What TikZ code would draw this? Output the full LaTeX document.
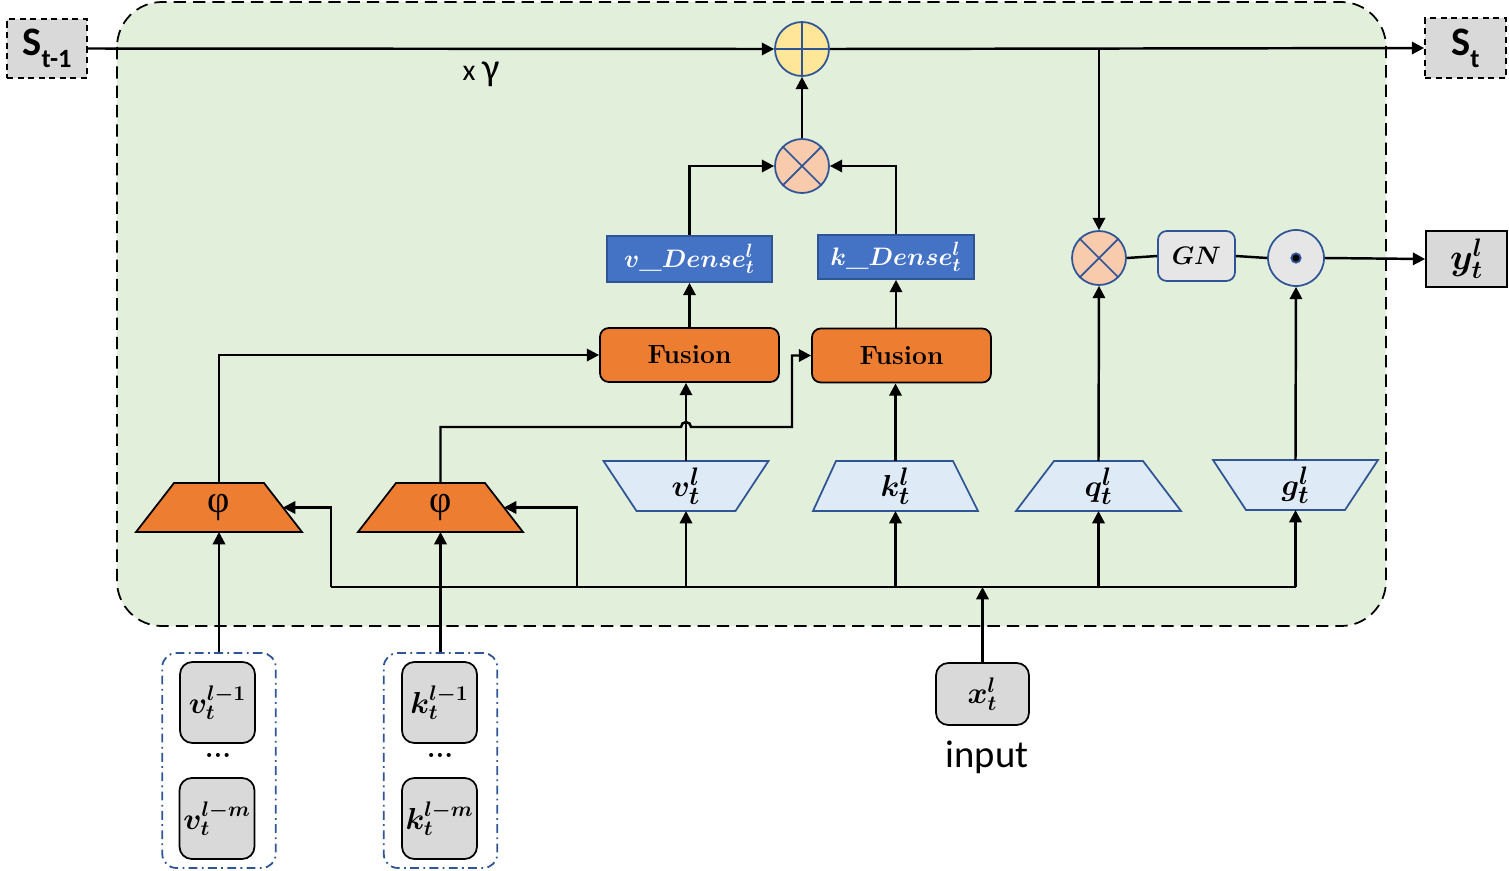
\documentclass[tikz,border=0pt]{standalone}
\usepackage{fontspec}
\usepackage{bm}
\usetikzlibrary{arrows.meta}
\newfontfamily\carlito{Carlito}
\newfontfamily\timesg{Liberation Serif}
\definecolor{bggreen}{HTML}{E2EFDA}
\definecolor{orng}{HTML}{ED7D31}
\definecolor{lorng}{HTML}{F8CBAD}
\definecolor{ylw}{HTML}{FFE699}
\definecolor{dblue}{HTML}{4472C4}
\definecolor{bblue}{HTML}{2F5597}
\definecolor{lblue}{HTML}{DEEBF7}
\definecolor{gry}{HTML}{D9D9D9}
\definecolor{lgry}{HTML}{E7E6E6}
\tikzset{
  arr/.style={line width=1.4pt,-{Triangle[length=7pt,width=7pt]}},
  ln/.style={line width=1.4pt},
  sbox/.style={draw,dashed,dash pattern=on 3.5pt off 2.5pt,line width=1pt,fill=gry,inner sep=0pt},
  opc/.style={circle,draw=bblue,line width=1pt,inner sep=0pt,minimum size=1.08cm},
  densebox/.style={rectangle,draw=bblue,line width=1pt,fill=dblue,inner sep=0pt,text=white,font=\fontsize{15}{18}\selectfont},
  fusionbox/.style={rectangle,rounded corners=5pt,draw,line width=1pt,fill=orng,inner sep=0pt,minimum width=3.58cm,minimum height=1.08cm,font=\bfseries\fontsize{15}{18}\selectfont},
  trapn/.style={rectangle,inner sep=0pt,outer sep=0pt,minimum width=3.3cm,minimum height=1.0cm},
  trapd/.style={draw=bblue,line width=1pt,fill=lblue},
  phid/.style={draw,line width=1pt,fill=orng},
  traplab/.style={inner sep=0pt,font=\fontsize{19}{22}\selectfont},
  philab/.style={inner sep=0pt,font=\timesg\fontsize{22}{24}\selectfont},
  stackbox/.style={rectangle,rounded corners=8pt,draw=bblue,line width=1pt,dash pattern=on 5pt off 2.5pt on 1pt off 2.5pt,inner sep=0pt,minimum width=2.27cm,minimum height=4.3cm},
  histbox/.style={rectangle,rounded corners=7pt,draw,line width=1pt,fill=gry,inner sep=0pt,minimum width=1.5cm,minimum height=1.62cm,font=\fontsize{17.5}{20}\selectfont},
}
\begin{document}
\begin{tikzpicture}[x=0.02cm,y=-0.02cm]
\useasboundingbox (0,0) rectangle (1509,870);
% main cell
\draw[fill=bggreen,dash pattern=on 7pt off 4pt,line width=1pt,rounded corners=0.9cm] (117,2) rectangle (1386,626);

% state boxes
\node[sbox,minimum width=1.6cm,minimum height=1.18cm] (s1) at (47,48.5) {\carlito\bfseries\fontsize{23}{26}\selectfont S\raisebox{-0.3em}{\fontsize{15}{17}\selectfont t-1}};
\node[sbox,minimum width=1.62cm,minimum height=1.2cm] (st) at (1465.5,48) {\carlito\bfseries\fontsize{23}{26}\selectfont S\raisebox{-0.3em}{\fontsize{15}{17}\selectfont t}};
\node[inner sep=0pt,anchor=base] (gam) at (481,80) {\carlito\fontsize{17}{18}\selectfont x \fontsize{22}{24}\selectfont γ};

% operators
\node[opc,fill=ylw] (plus) at (802,49) {};
\draw[bblue,line width=1pt] (plus.north) -- (plus.south) (plus.west) -- (plus.east);
\node[opc,fill=lorng] (ot2) at (802,166) {};
\draw[bblue,line width=1pt] (ot2.north west) -- (ot2.south east) (ot2.north east) -- (ot2.south west);
\node[opc,fill=lorng] (ot3) at (1099,258) {};
\draw[bblue,line width=1pt] (ot3.north west) -- (ot3.south east) (ot3.north east) -- (ot3.south west);
\node[opc,fill=lgry,minimum size=1.12cm] (od) at (1296,258) {};
\fill[bblue] (od) circle (3.2pt);
\fill[black] (od) circle (2pt);
\node[rectangle,rounded corners=5pt,draw=bblue,line width=1pt,fill=lgry,minimum width=1.54cm,minimum height=1.0cm,inner sep=0pt,font=\fontsize{14.5}{17}\selectfont] (gn) at (1196.5,256) {$\bm{GN}$};
\node[rectangle,draw,line width=1pt,fill=gry,minimum width=1.62cm,minimum height=1.12cm,inner sep=0pt,font=\fontsize{20}{23}\selectfont] (yb) at (1466.5,259) {$\bm{y_t^l}$};

% dense boxes
\node[densebox,minimum width=3.3cm,minimum height=0.92cm] (vd) at (689.5,259) {$\bm{v}\mbox{\bfseries\_}\bm{Dense_t^l}$};
\node[densebox,minimum width=3.12cm,minimum height=0.88cm] (kd) at (896,257) {$\bm{k}\mbox{\bfseries\_}\bm{Dense_t^l}$};

% fusion
\node[fusionbox] (f1) at (689.5,355) {Fusion};
\node[fusionbox] (f2) at (901.5,355.5) {Fusion};

% projection trapezia (wide side 3.3cm)
\node[trapn] (vt) at (686,486) {};
\filldraw[trapd] (vt.north west) -- (vt.north east) -- ([xshift=-0.66cm]vt.south east) -- ([xshift=0.66cm]vt.south west) -- cycle;
\node[traplab] at (vt) {$\bm{v_t^l}$};
\node[trapn] (kt) at (895.5,486) {};
\filldraw[trapd] ([xshift=0.46cm]kt.north west) -- ([xshift=-0.50cm]kt.north east) -- (kt.south east) -- (kt.south west) -- cycle;
\node[traplab] at (kt) {$\bm{k_t^l}$};
\node[trapn] (qt) at (1098.5,486) {};
\filldraw[trapd] ([xshift=0.76cm]qt.north west) -- ([xshift=-0.76cm]qt.north east) -- (qt.south east) -- (qt.south west) -- cycle;
\node[traplab] at (qt) {$\bm{q_t^l}$};
\node[trapn] (gt) at (1295.5,485) {};
\filldraw[trapd] (gt.north west) -- (gt.north east) -- ([xshift=-0.66cm]gt.south east) -- ([xshift=0.66cm]gt.south west) -- cycle;
\node[traplab] at (gt) {$\bm{g_t^l}$};
\node[trapn,minimum width=3.32cm,minimum height=0.98cm] (phi1) at (219,507.5) {};
\filldraw[phid] ([xshift=0.76cm]phi1.north west) -- ([xshift=-0.76cm]phi1.north east) -- (phi1.south east) -- (phi1.south west) -- cycle;
\node[philab] at (phi1) {φ};
\node[trapn,minimum width=3.3cm,minimum height=0.98cm] (phi2) at (440.5,507.5) {};
\filldraw[phid] ([xshift=0.76cm]phi2.north west) -- ([xshift=-0.76cm]phi2.north east) -- (phi2.south east) -- (phi2.south west) -- cycle;
\node[philab] at (phi2) {φ};

% history stacks
\node[stackbox] (vs) at (219,760.5) {};
\node[stackbox] (ks) at (440.5,760.5) {};
\node[histbox] (v1) at (217.5,702.5) {$\bm{v_t^{l-1}}$};
\node[histbox] (vm) at (217,818.5) {$\bm{v_t^{l-m}}$};
\node[histbox] (k1) at (439.5,702.5) {$\bm{k_t^{l-1}}$};
\node[histbox] (km) at (439.5,818.5) {$\bm{k_t^{l-m}}$};
\node[font=\bfseries\fontsize{16}{18}\selectfont] (vdots) at (218,755) {...};
\node[font=\bfseries\fontsize{16}{18}\selectfont] (kdots) at (440,755) {...};

% input
\node[histbox,minimum width=1.86cm,minimum height=1.24cm] (xin) at (982.5,694) {$\bm{x_t^l}$};
\node[font=\carlito\fontsize{22}{25}\selectfont] (inlab) at (987,757) {input};

% bus coordinates
\coordinate (b1) at (331,587);
\coordinate (b2) at (577,587);
\coordinate (bR) at (1295.5,587);
\coordinate (jL) at (681,427);
\coordinate (jT) at (792,427);

% connectors
\draw[arr] (s1.east) -- (plus.west);
\draw[arr] (plus.east) -- (st.west);
\draw[arr] (ot2.north) -- (plus.south);
\draw[arr] (vd.north) |- (ot2.west);
\draw[arr] (kd.north) |- (ot2.east);
\draw[arr] (ot3.north |- plus.east) -- (ot3.north);
\draw[ln] (ot3.east) -- (gn.west);
\draw[ln] (gn.east) -- (od.west);
\draw[arr] (od.east) -- (yb.west);
\draw[arr] (f1.north) -- (vd.south);
\draw[arr] (kd.south |- f2.north) -- (kd.south);
\draw[arr] (vt.north) -- (vt.north |- f1.south);
\draw[arr] (kt.north) -- (kt.north |- f2.south);
\draw[arr] (qt.north) -- (ot3.south);
\draw[arr] (gt.north) -- (od.south);
\draw[arr] (phi1.north) |- (f1.west);
\draw[arr] (phi2.north) |- (jL) arc[start angle=180,end angle=360,radius=5] -- (jT) |- (f2.west);
\draw[arr] (vs.north) -- (phi1.south);
\draw[arr] (ks.north) -- (phi2.south);
\draw[ln] (b1) -- (bR);
\draw[arr] (b1) |- ([xshift=-0.38cm]phi1.east);
\draw[arr] (b2) |- ([xshift=-0.38cm]phi2.east);
\draw[arr] (vt.south |- b1) -- (vt.south);
\draw[arr] (kt.south |- b1) -- (kt.south);
\draw[arr] (qt.south |- b1) -- (qt.south);
\draw[arr] (bR) -- (gt.south);
\draw[arr] (xin.north) -- (xin.north |- b1);
\end{tikzpicture}
\end{document}
